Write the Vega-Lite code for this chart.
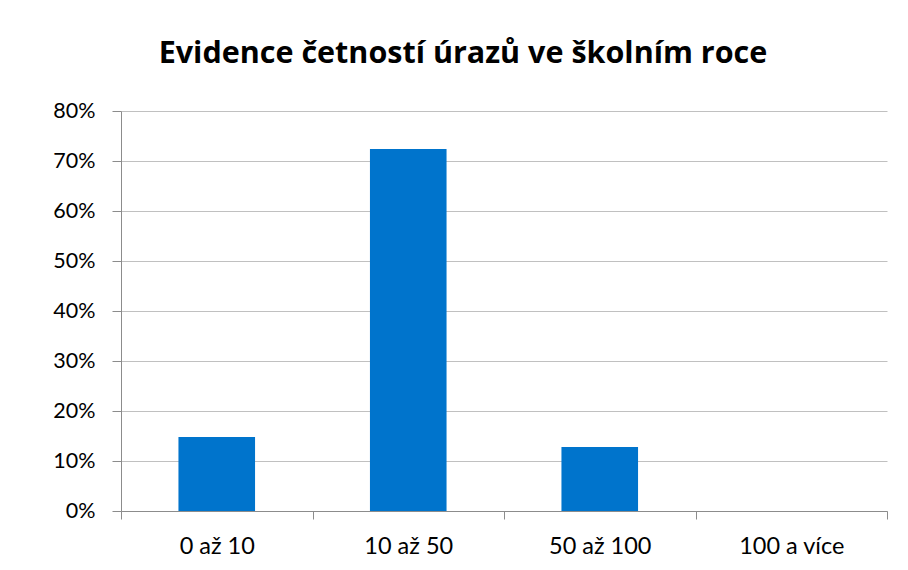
{
  "$schema": "https://vega.github.io/schema/vega-lite/v6.json",
  "width": 766,
  "height": 400,
  "autosize": "none",
  "padding": {"left": 121, "top": 111, "right": 21, "bottom": 59},
  "background": "white",
  "title": {
    "text": "Evidence četností úrazů ve školním roce",
    "font": "Open Sans",
    "fontSize": 30.5,
    "fontWeight": "bold",
    "color": "#000000",
    "anchor": "middle",
    "dx": -41,
    "offset": 31
  },
  "data": {
    "values": [
      {"kategorie": "0 až 10", "podil": 0.148},
      {"kategorie": "10 až 50", "podil": 0.724},
      {"kategorie": "50 až 100", "podil": 0.128},
      {"kategorie": "100 a více", "podil": 0}
    ]
  },
  "mark": {"type": "bar", "color": "#0074CC", "width": {"band": 0.4}},
  "encoding": {
    "x": {
      "field": "kategorie",
      "type": "nominal",
      "sort": null,
      "scale": {"paddingInner": 0, "paddingOuter": 0},
      "axis": {
        "title": null,
        "labelAngle": 0,
        "labelFont": "Lato",
        "labelFontSize": 23.5,
        "labelColor": "#000000",
        "labelPadding": 15,
        "tickBand": "extent",
        "tickSize": 8,
        "tickColor": "#8c8c8c",
        "domainColor": "#8c8c8c",
        "grid": false
      }
    },
    "y": {
      "field": "podil",
      "type": "quantitative",
      "scale": {"domain": [0, 0.8], "nice": false},
      "axis": {
        "title": null,
        "format": ".0%",
        "values": [0, 0.1, 0.2, 0.3, 0.4, 0.5, 0.6, 0.7, 0.8],
        "labelFont": "Lato",
        "labelFontSize": 21.5,
        "labelColor": "#000000",
        "labelPadding": 17,
        "tickSize": 9,
        "tickColor": "#8c8c8c",
        "domainColor": "#8c8c8c",
        "gridColor": "#c0c0c0"
      }
    }
  },
  "config": {"view": {"stroke": null}}
}
